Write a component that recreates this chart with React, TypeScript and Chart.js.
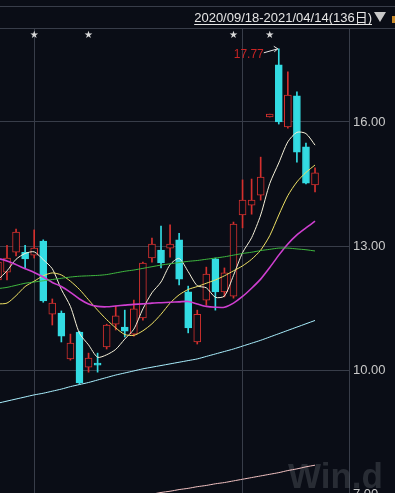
import { useEffect, useRef } from "react";
import { Chart, registerables } from "chart.js";
Chart.register(...registerables);

// ---------- data (candle index -1 .. 34, visible window) ----------
const FIRST_INDEX = -1;
const opens = [12.18, 12.37, 12.85, 12.85, 12.78, 13.12, 11.35, 11.38, 10.27, 10.92, 10.07, 10.17, 10.56, 11.11, 11.04, 10.87, 11.26, 12.71, 12.9, 12.95, 13.15, 11.89, 10.68, 11.69, 12.69, 11.89, 11.79, 13.75, 13.99, 14.23, 16.12, 17.38, 15.88, 16.63, 15.4, 14.48];
const closes = [12.61, 12.71, 13.34, 12.69, 12.95, 11.67, 11.62, 10.82, 10.65, 9.69, 10.29, 10.12, 11.09, 11.31, 10.94, 11.48, 12.59, 13.05, 12.59, 13.05, 12.2, 11.02, 11.35, 12.32, 11.89, 12.35, 13.53, 14.11, 14.11, 14.67, 16.19, 16.0, 16.65, 15.27, 14.52, 14.77];
const highs = [12.75, 13.02, 13.41, 13.02, 13.39, 13.15, 11.72, 11.43, 10.87, 10.94, 10.41, 10.41, 11.11, 11.55, 11.45, 11.69, 12.61, 13.19, 13.48, 13.51, 13.31, 12.03, 11.45, 12.49, 12.71, 12.47, 13.58, 14.6, 14.62, 15.15, 16.19, 17.77, 17.21, 16.73, 15.49, 14.89];
const lows = [12.06, 12.18, 12.76, 12.47, 12.71, 11.64, 11.09, 10.68, 10.24, 9.66, 9.95, 9.95, 10.51, 10.97, 10.8, 10.82, 11.21, 12.61, 12.47, 12.73, 12.06, 10.9, 10.63, 11.57, 11.45, 11.77, 11.74, 13.44, 13.77, 14.11, 16.12, 15.95, 15.85, 15.03, 14.5, 14.31];

const ma5 = [12.18, 12.4, 12.68, 12.82, 12.86, 12.67, 12.45, 11.95, 11.54, 10.89, 10.61, 10.31, 10.37, 10.5, 10.75, 10.99, 11.48, 11.87, 12.13, 12.55, 12.7, 12.38, 12.04, 11.99, 11.76, 11.79, 12.29, 12.84, 13.2, 13.75, 14.51, 15.01, 15.52, 15.75, 15.72, 15.44];
const ma10 = [11.6, 11.62, 11.8, 12.02, 12.15, 12.28, 12.35, 12.3, 12.15, 11.95, 11.7, 11.45, 11.22, 11.02, 10.86, 10.84, 10.95, 11.12, 11.35, 11.62, 11.82, 11.95, 12.02, 12.1, 12.18, 12.28, 12.4, 12.52, 12.68, 12.9, 13.25, 13.75, 14.22, 14.55, 14.78, 14.96];
const ma20 = [12.7, 12.64, 12.55, 12.45, 12.36, 12.25, 12.12, 12.02, 11.88, 11.72, 11.6, 11.54, 11.53, 11.55, 11.57, 11.59, 11.6, 11.62, 11.63, 11.64, 11.65, 11.66, 11.6, 11.54, 11.52, 11.52, 11.62, 11.78, 11.98, 12.2, 12.48, 12.78, 13.05, 13.27, 13.44, 13.6];
const ma60 = [11.97, 12.0, 12.05, 12.1, 12.13, 12.16, 12.19, 12.22, 12.25, 12.27, 12.28, 12.29, 12.31, 12.35, 12.39, 12.42, 12.46, 12.5, 12.54, 12.57, 12.6, 12.63, 12.65, 12.68, 12.71, 12.74, 12.78, 12.82, 12.85, 12.89, 12.92, 12.95, 12.95, 12.93, 12.91, 12.88];
const ma120 = [9.2, 9.25, 9.3, 9.35, 9.4, 9.44, 9.49, 9.54, 9.6, 9.65, 9.7, 9.76, 9.82, 9.88, 9.93, 9.98, 10.03, 10.07, 10.11, 10.15, 10.19, 10.23, 10.27, 10.33, 10.39, 10.45, 10.51, 10.58, 10.65, 10.72, 10.8, 10.88, 10.96, 11.04, 11.12, 11.2];
const ma250 = [null, null, null, null, null, null, null, null, null, null, null, 6.8, 6.83, 6.86, 6.9, 6.94, 6.97, 7.0, 7.04, 7.07, 7.11, 7.14, 7.18, 7.21, 7.25, 7.28, 7.32, 7.36, 7.4, 7.44, 7.48, 7.52, 7.57, 7.61, 7.66, 7.7];

const yTickValues = [7, 10, 13, 16];
const yTickLabels = ["7.00", "10.00", "13.00", "16.00"];
const monthLineIdx = [3, 26];
const starIdx = [3, 9, 25, 29];
const headerText = "2020/09/18-2021/04/14(136日)";
const watermark = "Win.d";

// ---------- styles ----------
const BG = "#0a0d16";
const GRID = "#383d49";
const RED = "#d5302e";
const CYAN = "#33dbe2";
const TEXT = "#c9c9c9";

export default function App() {
  const ref = useRef<HTMLCanvasElement>(null);

  useEffect(() => {
    const xs = opens.map((_, k) => k + FIRST_INDEX);
    const up = opens.map((o, k) => closes[k] >= o);

    const overlay = {
      id: "overlay",
      beforeDraw(chart: any) {
        const { ctx, width, height } = chart;
        ctx.save();
        ctx.fillStyle = BG;
        ctx.fillRect(0, 0, width, height);
        ctx.restore();
      },
      beforeDatasetsDraw(chart: any) {
        const { ctx } = chart;
        ctx.save();
        ctx.font = "bold 35px 'Liberation Sans', Arial, sans-serif";
        ctx.fillStyle = "rgba(120,124,134,0.28)";
        ctx.textBaseline = "alphabetic";
        ctx.textAlign = "left";
        ctx.fillText(watermark, 288, 488);
        ctx.restore();
      },
      afterDraw(chart: any) {
        const { ctx, width, chartArea } = chart;
        const xS = chart.scales.x;
        const yS = chart.scales.y;
        ctx.save();
        // header lines
        ctx.strokeStyle = GRID;
        ctx.lineWidth = 1;
        ctx.beginPath();
        ctx.moveTo(0, 6.5);
        ctx.lineTo(width, 6.5);
        ctx.moveTo(0, 28.5);
        ctx.lineTo(width, 28.5);
        ctx.stroke();
        // header text
        ctx.font = "13px 'Liberation Sans', 'Noto Sans CJK SC', sans-serif";
        ctx.fillStyle = "#e6e6e6";
        ctx.textAlign = "right";
        ctx.textBaseline = "alphabetic";
        ctx.fillText(headerText, 372, 22);
        const tw = ctx.measureText(headerText).width;
        ctx.strokeStyle = "#e6e6e6";
        ctx.beginPath();
        ctx.moveTo(372 - tw, 24.5);
        ctx.lineTo(372, 24.5);
        ctx.stroke();
        // dropdown triangle
        ctx.fillStyle = "#c8c8c8";
        ctx.beginPath();
        ctx.moveTo(374, 12);
        ctx.lineTo(386, 12);
        ctx.lineTo(380, 22);
        ctx.closePath();
        ctx.fill();
        ctx.fillStyle = "#c88a2a";
        ctx.fillRect(392, 16, 3, 7);
        // stars
        ctx.font = "10px 'DejaVu Sans', sans-serif";
        ctx.fillStyle = "#d8d8d8";
        ctx.textAlign = "center";
        ctx.textBaseline = "middle";
        starIdx.forEach((i) => ctx.fillText("★", xS.getPixelForValue(i), 35));
        // y labels
        ctx.font = "13px 'Liberation Sans', Arial, sans-serif";
        ctx.fillStyle = TEXT;
        ctx.textAlign = "left";
        ctx.textBaseline = "middle";
        yTickValues.forEach((v, k) => ctx.fillText(yTickLabels[k], chartArea.right + 4, yS.getPixelForValue(v)));
        // max annotation
        let mk = 0;
        highs.forEach((h, k) => { if (h > highs[mk]) mk = k; });
        const hx = xS.getPixelForValue(xs[mk]);
        const hy = yS.getPixelForValue(highs[mk]);
        ctx.font = "12px 'Liberation Sans', Arial, sans-serif";
        ctx.fillStyle = "#c82424";
        ctx.textAlign = "right";
        ctx.textBaseline = "alphabetic";
        ctx.fillText(highs[mk].toFixed(2), hx - 15, hy + 9);
        ctx.strokeStyle = "#e8e8e8";
        ctx.beginPath();
        ctx.moveTo(hx - 15, hy + 4);
        ctx.lineTo(hx - 1, hy);
        ctx.moveTo(hx - 1, hy);
        ctx.lineTo(hx - 5, hy - 2.5);
        ctx.moveTo(hx - 1, hy);
        ctx.lineTo(hx - 4.5, hy + 3);
        ctx.stroke();
        ctx.restore();
      },
    };

    const line = (data: (number | null)[], color: string, w = 1) => ({
      type: "line" as const,
      data: xs.map((x, k) => ({ x, y: data[k] })),
      borderColor: color,
      borderWidth: w,
      pointRadius: 0,
      tension: 0.25,
      fill: false,
      order: 1,
    });

    const chart = new Chart(ref.current as HTMLCanvasElement, {
      type: "bar",
      data: {
        datasets: [
          {
            type: "bar",
            data: xs.map((x, k) => ({ x, y: [lows[k], highs[k]] })),
            backgroundColor: up.map((u) => (u ? RED : CYAN)),
            borderWidth: 0,
            barThickness: 1,
            grouped: false,
            order: 3,
          } as any,
          {
            type: "bar",
            data: xs.map((x, k) => ({ x, y: [opens[k], closes[k]] })),
            backgroundColor: up.map((u) => (u ? BG : CYAN)),
            borderColor: up.map((u) => (u ? RED : CYAN)),
            borderWidth: 1,
            borderSkipped: false,
            barThickness: 7,
            grouped: false,
            order: 2,
          } as any,
          line(ma250, "#f2c2c2"),
          line(ma120, "#aaf0ff"),
          line(ma60, "#3fb83f"),
          line(ma20, "#cf3fd0", 1.6),
          line(ma10, "#eee064"),
          line(ma5, "#f6f1da"),
        ],
      },
      options: {
        responsive: false,
        animation: false,
        devicePixelRatio: 1,
        layout: { padding: { top: 28, right: 46, left: 0, bottom: 0 } },
        plugins: { legend: { display: false }, tooltip: { enabled: false } },
        scales: {
          x: {
            type: "linear",
            offset: false,
            min: -0.773,
            max: 37.75,
            afterBuildTicks: (s: any) => { s.ticks = monthLineIdx.map((v) => ({ value: v })); },
            ticks: { display: false },
            grid: { color: GRID, drawTicks: false, lineWidth: 1, offset: false },
            border: { display: false },
          },
          y: {
            type: "linear",
            position: "right",
            min: 6.858,
            max: 18.273,
            afterBuildTicks: (s: any) => { s.ticks = yTickValues.map((v) => ({ value: v })); },
            ticks: { display: false },
            grid: { color: GRID, drawTicks: false, lineWidth: 1 },
            border: { display: true, color: GRID },
          },
        },
      } as any,
      plugins: [overlay],
    });
    return () => chart.destroy();
  }, []);

  return (
    <div style={{ position: "fixed", left: 0, top: 0, width: 395, height: 493, overflow: "hidden", background: BG }}>
      <canvas ref={ref} width={395} height={500} style={{ display: "block", width: 395, height: 500 }} />
    </div>
  );
}
